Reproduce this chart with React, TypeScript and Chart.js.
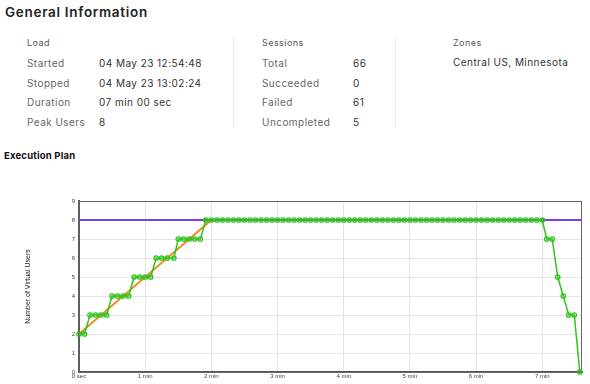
import React, { useEffect, useRef } from "react";
import { Chart, registerables } from "chart.js";

Chart.register(...registerables);

// ---- data ----
const xTickSeconds = [0, 60, 120, 180, 240, 300, 360, 420];
const xTickLabels = ["0 sec", "1 min", "2 min", "3 min", "4 min", "5 min", "6 min", "7 min"];
const yTicks = [0, 1, 2, 3, 4, 5, 6, 7, 8, 9];

const actualTimes = [
  0, 5, 10, 15, 20, 25, 30, 35, 40, 45, 50, 55, 60, 65, 70, 75, 80, 86, 90, 95, 100, 105, 110,
  115, 120, 125, 130, 135, 140, 145, 150, 155, 160, 165, 170, 175, 180, 185, 190, 195, 200,
  205, 210, 215, 220, 225, 230, 235, 240, 245, 250, 255, 260, 265, 270, 275, 280, 285, 290,
  295, 300, 305, 310, 315, 320, 325, 330, 335, 340, 345, 350, 355, 360, 365, 370, 375, 380,
  385, 390, 395, 400, 405, 410, 415, 420,
  424, 429, 434, 439, 444, 449, 454,
];
const actualUsers = [
  2, 2, 3, 3, 3, 3, 4, 4, 4, 4, 5, 5, 5, 5, 6, 6, 6, 6, 7, 7, 7, 7, 7,
  8, 8, 8, 8, 8, 8, 8, 8, 8, 8, 8, 8, 8, 8, 8, 8, 8, 8,
  8, 8, 8, 8, 8, 8, 8, 8, 8, 8, 8, 8, 8, 8, 8, 8, 8, 8,
  8, 8, 8, 8, 8, 8, 8, 8, 8, 8, 8, 8, 8, 8, 8, 8, 8, 8,
  8, 8, 8, 8, 8, 8, 8, 8,
  7, 7, 5, 4, 3, 3, 0,
];
const planTimes = [0, 120, 456];
const planUsers = [2, 8, 8];
const maxTimes = [0, 456];
const maxUsers = [8, 8];
const xMax = 456;

const loadRows = [
  ["Started", "04 May 23 12:54:48"],
  ["Stopped", "04 May 23 13:02:24"],
  ["Duration", "07 min 00 sec"],
  ["Peak Users", "8"],
];
const sessionRows = [
  ["Total", "66"],
  ["Succeeded", "0"],
  ["Failed", "61"],
  ["Uncompleted", "5"],
];
const zoneText = "Central US, Minnesota";

const FONT = "Inter, 'Noto Sans', sans-serif";

function T(props: { x: number; y: number; size: number; color: string; weight?: number; ls?: number; children: React.ReactNode }) {
  return (
    <div
      style={{
        position: "absolute",
        left: props.x,
        top: props.y,
        transform: "translateY(-50%)",
        fontSize: props.size,
        color: props.color,
        fontWeight: props.weight ?? 400,
        letterSpacing: props.ls ?? 0.45,
        whiteSpace: "nowrap",
        lineHeight: 1,
        fontFamily: FONT,
      }}
    >
      {props.children}
    </div>
  );
}

const framePlugin = {
  id: "frame",
  beforeDatasetsDraw(chart: any) {
    const { ctx, chartArea } = chart;
    ctx.save();
    ctx.strokeStyle = "#666";
    ctx.lineWidth = 1;
    ctx.strokeRect(chartArea.left, chartArea.top + 0.5, chartArea.right - chartArea.left - 0.5, chartArea.bottom - chartArea.top);
    ctx.restore();
  },
};

export default function App() {
  const ref = useRef<HTMLCanvasElement>(null);

  useEffect(() => {
    if (!ref.current) return;
    const toPts = (xs: number[], ys: number[]) => xs.map((x, i) => ({ x, y: ys[i] }));
    const chart = new Chart(ref.current, {
      type: "line",
      data: {
        datasets: [
          {
            label: "Actual",
            data: toPts(actualTimes, actualUsers),
            borderColor: "#2ec41a",
            borderWidth: 1.5,
            pointRadius: 2.2,
            pointBorderWidth: 1.3,
            pointBorderColor: "#2ec41a",
            pointBackgroundColor: "rgba(255,255,255,0)",
            tension: 0,
            clip: false as any,
            order: 0,
          },
          {
            label: "Max",
            data: toPts(maxTimes, maxUsers),
            borderColor: "#7a3cef",
            borderWidth: 2,
            pointRadius: 0,
            tension: 0,
            order: 1,
          },
          {
            label: "Planned",
            data: toPts(planTimes, planUsers),
            borderColor: "#f28a1e",
            borderWidth: 2,
            pointRadius: 0,
            tension: 0,
            order: 2,
          },
        ],
      },
      options: {
        animation: false,
        responsive: false,
        maintainAspectRatio: false,
        events: [],
        layout: { padding: { left: 24, right: 8, top: 11, bottom: 2 } },
        plugins: { legend: { display: false }, tooltip: { enabled: false } },
        scales: {
          x: {
            type: "linear",
            min: 0,
            max: xMax,
            afterBuildTicks: (s: any) => {
              s.ticks = xTickSeconds.map((v) => ({ value: v }));
            },
            afterFit: (s: any) => {
              s.height = 10;
            },
            ticks: {
              autoSkip: false,
              maxRotation: 0,
              padding: 1,
              font: { size: 6, family: "'Liberation Sans', sans-serif" },
              color: "#444",
              callback: (v: any) => {
                const i = xTickSeconds.indexOf(Number(v));
                return i >= 0 ? xTickLabels[i] : "";
              },
            },
            grid: { color: "#e4e4e4", lineWidth: 1, drawTicks: false },
            border: { color: "#555", width: 2 },
          },
          y: {
            min: 0,
            max: 9,
            afterBuildTicks: (s: any) => {
              s.ticks = yTicks.map((v) => ({ value: v }));
            },
            afterFit: (s: any) => {
              s.width = 55;
            },
            ticks: {
              padding: 4,
              font: { size: 6, family: "'Liberation Sans', sans-serif" },
              color: "#444",
            },
            grid: { color: "#e4e4e4", lineWidth: 1, drawTicks: false },
            border: { color: "#555", width: 2 },
            title: {
              display: true,
              text: "Number of Virtual Users",
              font: { size: 7, family: "'Liberation Sans', sans-serif" },
              color: "#222",
              padding: 0,
            },
          },
        },
      },
      plugins: [framePlugin],
    });
    return () => chart.destroy();
  }, []);

  return (
    <div style={{ position: "absolute", left: 0, top: 0, width: 590, height: 384, background: "#fff", overflow: "hidden", fontFamily: FONT }}>
      <T x={5} y={13} size={13.5} color="#222" weight={600} ls={0.7}>General Information</T>

      <T x={27} y={42} size={9} color="#555">Load</T>
      {loadRows.map((r, i) => (
        <React.Fragment key={"l" + i}>
          <T x={27} y={63 + i * 19.7} size={10} color="#666">{r[0]}</T>
          <T x={99} y={63 + i * 19.7} size={10} color="#333">{r[1]}</T>
        </React.Fragment>
      ))}

      <div style={{ position: "absolute", left: 233, top: 36, width: 1, height: 92, background: "#ececec" }} />

      <T x={262} y={42} size={9} color="#555">Sessions</T>
      {sessionRows.map((r, i) => (
        <React.Fragment key={"s" + i}>
          <T x={262} y={63 + i * 19.7} size={10} color="#666">{r[0]}</T>
          <T x={353} y={63 + i * 19.7} size={10} color="#333">{r[1]}</T>
        </React.Fragment>
      ))}

      <div style={{ position: "absolute", left: 395, top: 36, width: 1, height: 92, background: "#ececec" }} />

      <T x={453} y={42} size={9} color="#555">Zones</T>
      <T x={453} y={62} size={10} color="#333">{zoneText}</T>

      <T x={4} y={156} size={9.5} color="#111" weight={700} ls={0.2}>Execution Plan</T>

      <canvas ref={ref} width={590} height={194} style={{ position: "absolute", left: 0, top: 190, width: 590, height: 194 }} />
    </div>
  );
}
